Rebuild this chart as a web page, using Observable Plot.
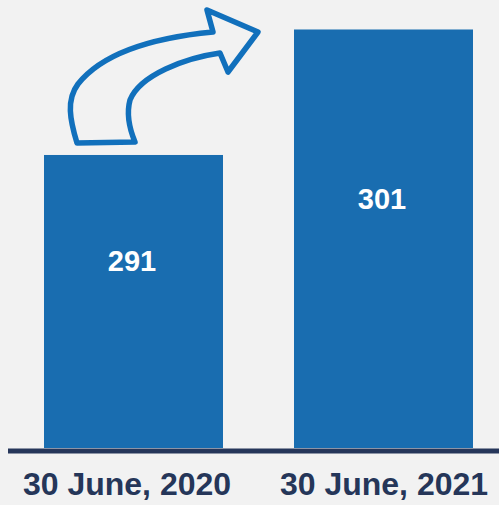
<!DOCTYPE html>
<html>
<head>
<meta charset="utf-8">
<script src="https://cdn.jsdelivr.net/npm/d3@7"></script>
<script src="https://cdn.jsdelivr.net/npm/@observablehq/plot@0.6"></script>
<style>
  html, body { margin: 0; padding: 0; background: #f2f2f2; }
  #chart svg { display: block; }
</style>
</head>
<body>
<div id="chart"></div>
<script>
const categories = ["30 June, 2020", "30 June, 2021"];
const values = [291, 301];
const yDomain = [267.65, 303.35];

const data = categories.map((c, i) => ({date: c, value: values[i]}));
const yMin = yDomain[0];

// decorative curved arrow, anchored to the first bar's top-left corner
function arrowMark(index, scales) {
  const x0 = scales.x(categories[0]);
  const y0 = scales.y(values[0]);
  const d = "M33,-12 C26,-35 22,-55 34,-71 C61,-105 116,-118 169,-123 " +
            "L163,-145 L214,-123 L184,-83 L176,-102 " +
            "C141,-97 96,-80 86,-55 C82,-40 86,-25 91,-13 Z";
  const g = d3.create("svg:g").attr("transform", `translate(${x0},${y0})`);
  g.append("path")
    .attr("d", d)
    .attr("fill", "none")
    .attr("stroke", "#1170bc")
    .attr("stroke-width", 5.5)
    .attr("stroke-linejoin", "round")
    .attr("stroke-linecap", "round");
  return g.node();
}

const chart = Plot.plot({
  width: 499,
  height: 505,
  marginTop: 0,
  marginBottom: 57,
  marginLeft: 8,
  marginRight: 0,
  style: {background: "#f2f2f2", fontFamily: "'Liberation Sans', Arial, sans-serif"},
  x: {domain: categories, paddingInner: 0.284, paddingOuter: 0.124, align: 0.58, label: null, axis: null},
  y: {domain: yDomain, axis: null},
  marks: [
    Plot.barY(data, {x: "date", y1: () => yMin, y2: "value", fill: "#196db0"}),
    Plot.text(data, {
      x: "date",
      y: d => (yMin + d.value) / 2,
      text: d => String(d.value),
      fill: "white",
      fontSize: 29,
      fontWeight: "bold",
      dx: -2,
      dy: -40
    }),
    Plot.ruleY([yMin], {stroke: "#26365a", strokeWidth: 5, dy: 2.5}),
    Plot.text(categories, {
      filter: (d, i) => i === 0,
      x: d => d,
      frameAnchor: "bottom",
      text: d => d,
      dx: -7,
      dy: 46,
      fontSize: 32,
      fontWeight: "bold",
      fill: "#253659"
    }),
    Plot.text(categories, {
      filter: (d, i) => i === 1,
      x: d => d,
      frameAnchor: "bottom",
      text: d => d,
      dy: 46,
      fontSize: 32,
      fontWeight: "bold",
      fill: "#253659"
    }),
    arrowMark
  ]
});
document.getElementById("chart").append(chart);
</script>
</body>
</html>
